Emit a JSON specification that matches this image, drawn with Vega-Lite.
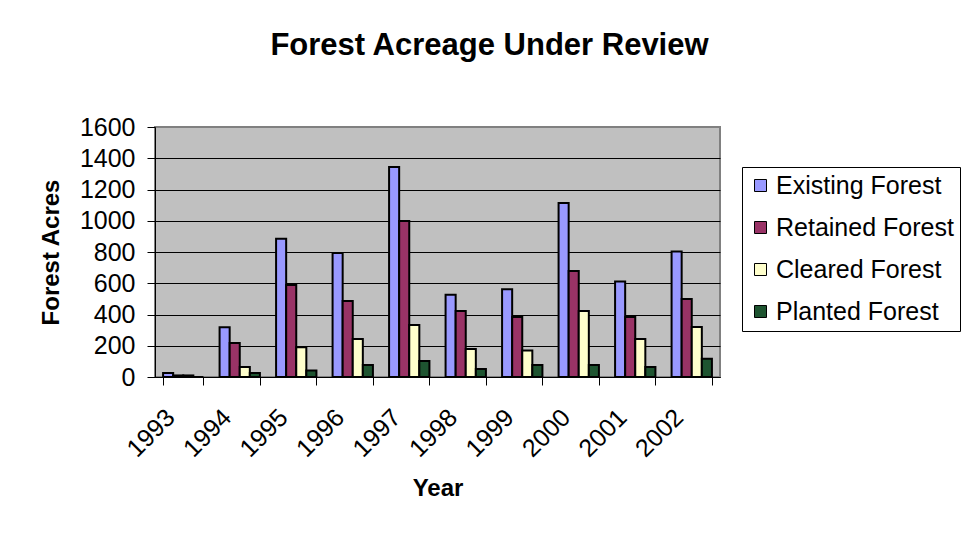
{
  "$schema": "https://vega.github.io/schema/vega-lite/v6.json",
  "width": 565,
  "height": 250,
  "autosize": {"type": "none"},
  "padding": {"left": 155, "top": 127, "right": 241, "bottom": 161},
  "background": "white",
  "title": {
    "text": "Forest Acreage Under Review",
    "font": "Liberation Sans",
    "fontSize": 31,
    "fontWeight": "bold",
    "color": "black",
    "anchor": "middle",
    "frame": "group",
    "baseline": "alphabetic",
    "dx": 52,
    "offset": 29
  },
  "data": {
    "values": [
      {"Year": "1993", "Series": "Existing Forest", "Acres": 25},
      {"Year": "1993", "Series": "Retained Forest", "Acres": 10},
      {"Year": "1993", "Series": "Cleared Forest", "Acres": 10},
      {"Year": "1993", "Series": "Planted Forest", "Acres": 0},
      {"Year": "1994", "Series": "Existing Forest", "Acres": 318},
      {"Year": "1994", "Series": "Retained Forest", "Acres": 218},
      {"Year": "1994", "Series": "Cleared Forest", "Acres": 64},
      {"Year": "1994", "Series": "Planted Forest", "Acres": 26},
      {"Year": "1995", "Series": "Existing Forest", "Acres": 885},
      {"Year": "1995", "Series": "Retained Forest", "Acres": 589},
      {"Year": "1995", "Series": "Cleared Forest", "Acres": 190},
      {"Year": "1995", "Series": "Planted Forest", "Acres": 41},
      {"Year": "1996", "Series": "Existing Forest", "Acres": 794},
      {"Year": "1996", "Series": "Retained Forest", "Acres": 486},
      {"Year": "1996", "Series": "Cleared Forest", "Acres": 243},
      {"Year": "1996", "Series": "Planted Forest", "Acres": 77},
      {"Year": "1997", "Series": "Existing Forest", "Acres": 1344},
      {"Year": "1997", "Series": "Retained Forest", "Acres": 998},
      {"Year": "1997", "Series": "Cleared Forest", "Acres": 333},
      {"Year": "1997", "Series": "Planted Forest", "Acres": 102},
      {"Year": "1998", "Series": "Existing Forest", "Acres": 527},
      {"Year": "1998", "Series": "Retained Forest", "Acres": 422},
      {"Year": "1998", "Series": "Cleared Forest", "Acres": 179},
      {"Year": "1998", "Series": "Planted Forest", "Acres": 51},
      {"Year": "1999", "Series": "Existing Forest", "Acres": 561},
      {"Year": "1999", "Series": "Retained Forest", "Acres": 384},
      {"Year": "1999", "Series": "Cleared Forest", "Acres": 169},
      {"Year": "1999", "Series": "Planted Forest", "Acres": 77},
      {"Year": "2000", "Series": "Existing Forest", "Acres": 1114},
      {"Year": "2000", "Series": "Retained Forest", "Acres": 678},
      {"Year": "2000", "Series": "Cleared Forest", "Acres": 422},
      {"Year": "2000", "Series": "Planted Forest", "Acres": 77},
      {"Year": "2001", "Series": "Existing Forest", "Acres": 612},
      {"Year": "2001", "Series": "Retained Forest", "Acres": 384},
      {"Year": "2001", "Series": "Cleared Forest", "Acres": 243},
      {"Year": "2001", "Series": "Planted Forest", "Acres": 64},
      {"Year": "2002", "Series": "Existing Forest", "Acres": 804},
      {"Year": "2002", "Series": "Retained Forest", "Acres": 499},
      {"Year": "2002", "Series": "Cleared Forest", "Acres": 320},
      {"Year": "2002", "Series": "Planted Forest", "Acres": 117}
    ]
  },
  "mark": {"type": "bar", "stroke": "black", "strokeWidth": 2},
  "encoding": {
    "x": {
      "field": "Year",
      "type": "nominal",
      "scale": {"paddingInner": 0.286, "paddingOuter": 0.143},
      "axis": {
        "title": "Year",
        "tickBand": "extent",
        "labelAngle": -45,
        "labelAlign": "right",
        "labelBaseline": "middle",
        "labelOffset": -13,
        "labelPadding": 28,
        "tickSize": 8,
        "tickColor": "black",
        "domainColor": "black",
        "titlePadding": 15
      }
    },
    "xOffset": {
      "field": "Series",
      "type": "nominal",
      "sort": ["Existing Forest", "Retained Forest", "Cleared Forest", "Planted Forest"]
    },
    "y": {
      "field": "Acres",
      "type": "quantitative",
      "scale": {"domain": [0, 1600], "nice": false},
      "axis": {
        "title": "Forest Acres",
        "format": "d",
        "values": [0, 200, 400, 600, 800, 1000, 1200, 1400, 1600],
        "tickSize": 8,
        "tickColor": "black",
        "domainColor": "black",
        "labelPadding": 12,
        "titlePadding": 16,
        "grid": true,
        "gridColor": {"condition": {"test": "datum.value >= 1600", "value": "#808080"}, "value": "black"},
        "gridWidth": 1,
        "gridOpacity": 1
      }
    },
    "color": {
      "field": "Series",
      "type": "nominal",
      "sort": ["Existing Forest", "Retained Forest", "Cleared Forest", "Planted Forest"],
      "scale": {
        "domain": ["Existing Forest", "Retained Forest", "Cleared Forest", "Planted Forest"],
        "range": ["#9999FF", "#993366", "#FFFFCC", "#1E5430"]
      },
      "legend": {
        "title": null,
        "orient": "none",
        "legendX": 587,
        "legendY": 40,
        "strokeColor": "black",
        "fillColor": "white",
        "padding": 6,
        "symbolType": "square",
        "symbolSize": 144,
        "symbolStrokeColor": "black",
        "symbolStrokeWidth": 1,
        "symbolOpacity": 1,
        "labelFontSize": 25,
        "labelLimit": 400,
        "labelOffset": 3,
        "rowPadding": 16
      }
    }
  },
  "config": {
    "font": "Liberation Sans",
    "view": {"fill": "#C0C0C0", "stroke": "#808080", "strokeWidth": 2},
    "axis": {
      "labelFont": "Liberation Sans",
      "labelFontSize": 25,
      "labelColor": "black",
      "titleFont": "Liberation Sans",
      "titleFontSize": 24,
      "titleFontWeight": "bold",
      "titleColor": "black",
      "grid": false
    },
    "legend": {"labelFont": "Liberation Sans", "labelColor": "black"}
  }
}
